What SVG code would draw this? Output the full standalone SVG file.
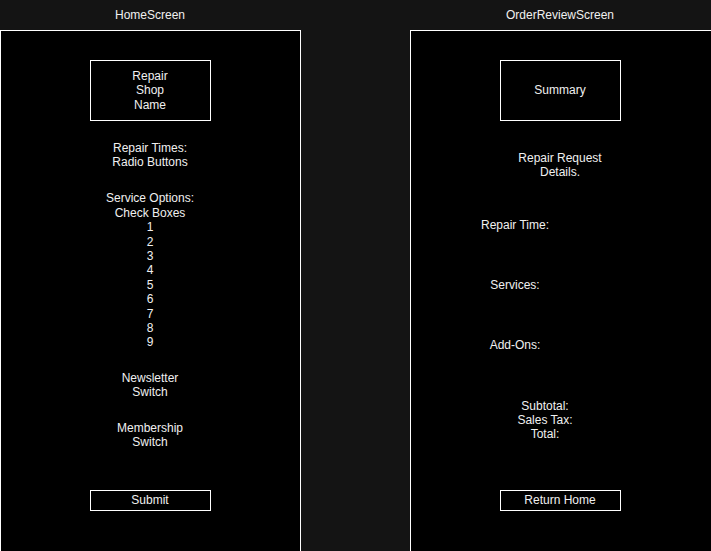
<svg xmlns="http://www.w3.org/2000/svg" width="711" height="551" viewBox="0 0 711 551">
<style>
text{font-family:"Liberation Sans",Arial,sans-serif;font-size:12px;fill:#f0f0f0;text-anchor:middle}
.frame{fill:#000;stroke:#fff;stroke-width:1}
.box{fill:#000;stroke:#fff;stroke-width:1}
</style>
<rect x="0" y="0" width="711" height="551" fill="#141414"/>
<g id="home-screen">
<text x="150" y="19.3">HomeScreen</text>
<rect class="frame" x="0.5" y="30.5" width="300" height="530"/>
</g>
<g id="order-review-screen">
<text x="560" y="19.3">OrderReviewScreen</text>
<rect class="frame" x="410.5" y="30.5" width="310" height="530"/>
</g>
<g id="repair-shop-name">
<rect class="box" x="90.5" y="60.5" width="120" height="60"/>
<text x="150" y="79.8">Repair</text>
<text x="150" y="94.2">Shop</text>
<text x="150" y="108.6">Name</text>
</g>
<g id="repair-times">
<text x="150" y="151.5">Repair Times:</text>
<text x="150" y="165.9">Radio Buttons</text>
</g>
<g id="service-options">
<text x="150" y="202.3">Service Options:</text>
<text x="150" y="216.7">Check Boxes</text>
<text x="150" y="231.1">1</text>
<text x="150" y="245.5">2</text>
<text x="150" y="259.9">3</text>
<text x="150" y="274.3">4</text>
<text x="150" y="288.7">5</text>
<text x="150" y="303.1">6</text>
<text x="150" y="317.5">7</text>
<text x="150" y="331.9">8</text>
<text x="150" y="346.3">9</text>
</g>
<g id="newsletter">
<text x="150" y="381.6">Newsletter</text>
<text x="150" y="396">Switch</text>
</g>
<g id="membership">
<text x="150" y="432">Membership</text>
<text x="150" y="446.4">Switch</text>
</g>
<g id="submit">
<rect class="box" x="90.5" y="490.5" width="120" height="20"/>
<text x="150" y="504">Submit</text>
</g>
<g id="summary">
<rect class="box" x="500.5" y="60.5" width="120" height="60"/>
<text x="560" y="94.3">Summary</text>
</g>
<g id="repair-request-details">
<text x="560" y="162">Repair Request</text>
<text x="560" y="176.4">Details.</text>
</g>
<g id="repair-time">
<text x="515" y="229.3">Repair Time:</text>
</g>
<g id="services">
<text x="515" y="289.3">Services:</text>
</g>
<g id="add-ons">
<text x="515" y="348.6">Add-Ons:</text>
</g>
<g id="totals">
<text x="545" y="409.6">Subtotal:</text>
<text x="545" y="424">Sales Tax:</text>
<text x="545" y="438.4">Total:</text>
</g>
<g id="return-home">
<rect class="box" x="500.5" y="490.5" width="120" height="20"/>
<text x="560" y="504">Return Home</text>
</g>
<g id="connectors"></g>
</svg>
